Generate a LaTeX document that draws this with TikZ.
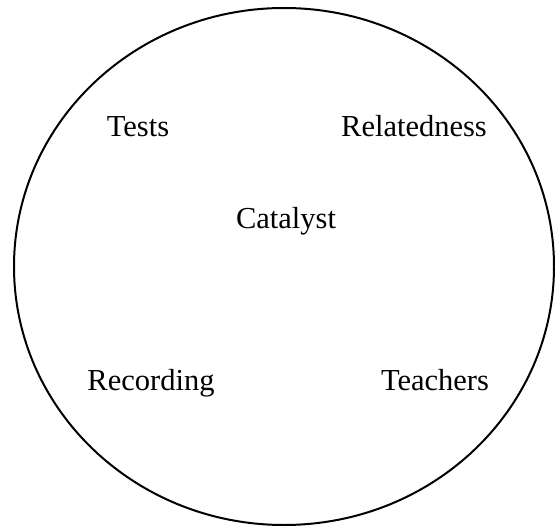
\documentclass[tikz,border=0pt]{standalone}
\usepackage{fontspec}
\setmainfont{Liberation Serif}
\usepackage{tikz}
\usetikzlibrary{shapes.geometric}

\begin{document}
\begin{tikzpicture}[
    x=1pt, y=-1pt,
    font=\fontsize{30.5}{36}\selectfont,
    outline/.style={ellipse, draw=black, line width=2pt, minimum width=540pt, minimum height=517pt, inner sep=0pt},
    word/.style={anchor=base, inner sep=0pt},
  ]
    \useasboundingbox (0,0) rectangle (555,527);

    \node[outline] (circle) at (284,266.5) {};

    \node[word] (tests) at (138,136) {Tests};
    \node[word] (related) at (414,136) {Relatedness};
    \node[word] (catalyst) at (286,228) {Catalyst};
    \node[word] (recording) at (151,390) {Recording};
    \node[word] (teachers) at (435,390) {Teachers};
  \end{tikzpicture}
\end{document}
